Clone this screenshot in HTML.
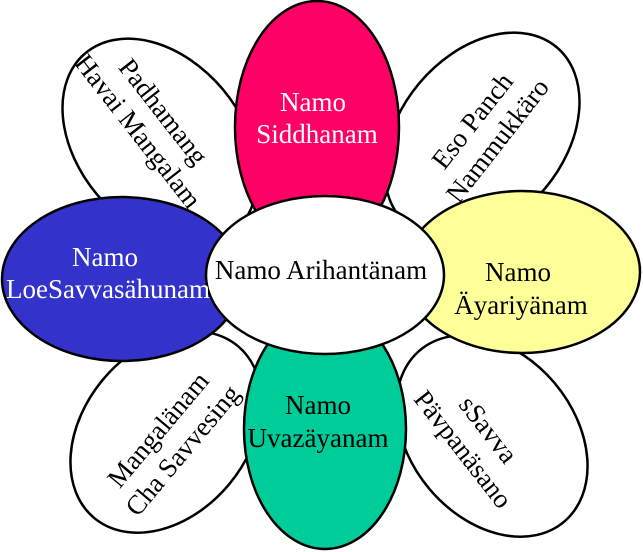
<!DOCTYPE html>
<html><head><meta charset="utf-8"><style>html,body{margin:0;padding:0;background:#fff;overflow:hidden;width:643px;height:552px}svg{display:block}</style></head>
<body>
<svg width="643" height="552" viewBox="0 0 643 552" xmlns="http://www.w3.org/2000/svg" font-family="Liberation Serif, serif" font-size="27">
<g stroke="#000" stroke-width="2.5" fill="#fff">
<ellipse cx="0" cy="0" rx="116" ry="82" transform="translate(160,142) rotate(50)"/>
<ellipse cx="0" cy="0" rx="116" ry="82" transform="translate(482,136) rotate(-50)"/>
<ellipse cx="0" cy="0" rx="112" ry="82" transform="translate(166,432) rotate(-50)"/>
<ellipse cx="0" cy="0" rx="112" ry="82" transform="translate(492,436) rotate(50)"/>
<ellipse cx="317" cy="127" rx="82" ry="126" fill="#ff0066"/>
<ellipse cx="325" cy="429" rx="81" ry="120" fill="#00cc99"/>
<ellipse cx="122" cy="279" rx="120" ry="82" fill="#3333cc"/>
<ellipse cx="522" cy="272" rx="118" ry="81" fill="#ffff99"/>
<ellipse cx="325" cy="275" rx="119" ry="79" fill="#fff"/>
</g>
<g text-anchor="middle">
<text x="313" y="111" fill="#fff">Namo</text>
<text x="317" y="143" fill="#fff">Siddhanam</text>
<text x="105" y="266" fill="#fff">Namo</text>
<text x="108" y="298" fill="#fff">LoeSavvasähunam</text>
<text x="518" y="281">Namo</text>
<text x="521" y="314">Äyariyänam</text>
<text x="318" y="414">Namo</text>
<text x="318" y="447">Uvazäyanam</text>
<text x="321" y="279">Namo Arihantänam</text>
<g transform="translate(150,122) rotate(52)"><text x="0" y="-8">Padhamang</text><text x="0" y="24">Havai Mangalam</text></g>
<g transform="translate(484,130) rotate(-52)"><text x="0" y="-6">Eso Panch</text><text x="0" y="26">Nammukkäro</text></g>
<g transform="translate(168,438) rotate(-50)"><text x="0" y="-4">Mangalänam</text><text x="0" y="28">Cha Savvesing</text></g>
<g transform="translate(475,440) rotate(52)"><text x="0" y="-8">sSavva</text><text x="0" y="24">Pävpanäsano</text></g>
</g>
</svg>
</body></html>
